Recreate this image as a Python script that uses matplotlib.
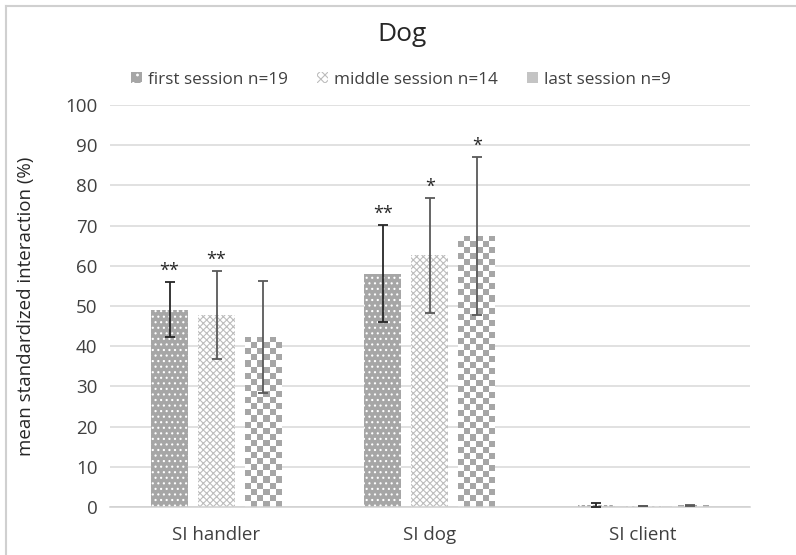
import numpy as np
import matplotlib
matplotlib.use("Agg")
from matplotlib import pyplot as plt
from matplotlib.patches import Patch
from matplotlib.lines import Line2D

plt.rcParams['font.family'] = ['Open Sans', 'DejaVu Sans']
plt.rcParams['hatch.linewidth'] = 0.8

categories = ['SI handler', 'SI dog', 'SI client']
series = ['first session n=19', 'middle session n=14', 'last session n=9']

first_mean = [49.1, 58.0, 0.6]
first_err = [6.8, 12.1, 0.5]
middle_mean = [47.7, 62.6, 0.2]
middle_err = [10.9, 14.3, 0.0]
last_mean = [42.3, 67.4, 0.4]
last_err = [13.9, 19.7, 0.1]

first_stars = ['**', '**', '']
middle_stars = ['**', '*', '']
last_stars = ['', '*', '']

GRAY = '#a6a6a6'

fig = plt.figure(figsize=(7.96, 5.55), dpi=100)
ax = fig.add_axes([0.138, 0.0865, 0.804, 0.7245])

x = np.arange(len(categories))
width = 0.173
step = 0.22

b1 = ax.bar(x - step, first_mean, width, color=GRAY, edgecolor='white',
            hatch='...', linewidth=0, zorder=2)
b2 = ax.bar(x, middle_mean, width, color='white', edgecolor='#bdbdbd',
            hatch='xxxxx', linewidth=0, zorder=2)
b3 = ax.bar(x + step, last_mean, width, color='white', linewidth=0, zorder=2)

ax.set_xlim(-0.5, 2.5)
ax.set_ylim(0, 100)

# checkerboard fill for the last session, clipped to each bar
fig.canvas.draw()
cell = 6.0
for rect in b3:
    x0, y0 = rect.get_x(), rect.get_y()
    w, h = rect.get_width(), rect.get_height()
    if h <= 0:
        continue
    p0 = ax.transData.transform((x0, y0))
    p1 = ax.transData.transform((x0 + w, y0 + h))
    ncol = max(1, int(round((p1[0] - p0[0]) / cell)))
    nrow = max(1, int(round((p1[1] - p0[1]) / cell)))
    board = (np.add.outer(np.arange(nrow), np.arange(ncol)) % 2).astype(float)
    im = ax.imshow(board, cmap=matplotlib.colors.ListedColormap(['white', GRAY]),
                   extent=(x0, x0 + w, y0, y0 + h), origin='lower',
                   interpolation='nearest', aspect='auto', zorder=2.5)
    im.set_clip_path(rect)

ax.set_aspect('auto')
ax.set_xlim(-0.5, 2.5)
ax.set_ylim(0, 100)

for offs, means, errs, col in [(-step, first_mean, first_err, '#262626'),
                               (0, middle_mean, middle_err, '#595959'),
                               (step, last_mean, last_err, '#595959')]:
    ax.errorbar(x + offs, means, yerr=errs, fmt='none', ecolor=col,
                elinewidth=1.3, capsize=3.5, capthick=1.3, zorder=3)

for offs, means, errs, stars in [(-step, first_mean, first_err, first_stars),
                                 (0, middle_mean, middle_err, middle_stars),
                                 (step, last_mean, last_err, last_stars)]:
    for xi, m, e, s in zip(x, means, errs, stars):
        if s:
            ax.annotate(s, (xi + offs, m + e), xytext=(0, 1.5),
                        textcoords='offset points', ha='center', va='bottom',
                        fontsize=13, color='#262626')

ax.set_yticks(np.arange(0, 101, 10))
ax.yaxis.grid(True, color='#d9d9d9', linewidth=1.1, zorder=0)
ax.set_axisbelow(True)
for side in ['left', 'right', 'top']:
    ax.spines[side].set_visible(False)
ax.spines['bottom'].set_color('#d0d0d0')
ax.spines['bottom'].set_linewidth(1.1)
ax.tick_params(length=0, labelsize=13.5, colors='#404040')
ax.tick_params(axis='x', pad=14)
ax.tick_params(axis='y', pad=9)
ax.set_xticks(x)
ax.set_xticklabels(categories)
ax.set_ylabel('mean standardized interaction (%)', fontsize=13.5,
              color='#262626', labelpad=22)

fig.text(0.505, 0.937, 'Dog', ha='center', va='center', fontsize=19,
         color='#262626')

handles = [Patch(facecolor=GRAY, edgecolor='white', hatch='..', linewidth=0),
           Patch(facecolor='white', edgecolor='#bdbdbd', hatch='xxxx', linewidth=0),
           Patch(facecolor='#c4c4c4', linewidth=0)]
fig.legend(handles, series, loc='center', bbox_to_anchor=(0.504, 0.856), ncol=3,
           frameon=False, fontsize=12.3, handlelength=0.6, handleheight=0.6,
           handletextpad=0.4, columnspacing=1.7, labelcolor='#404040')

# outer chart border (left and top)
fig.add_artist(Line2D([6 / 796, 6 / 796], [0, 1 - 6 / 555], transform=fig.transFigure,
                      color='#d0d0d0', linewidth=1.5))
fig.add_artist(Line2D([6 / 796, 1], [1 - 6 / 555, 1 - 6 / 555], transform=fig.transFigure,
                      color='#d0d0d0', linewidth=1.5))

fig.savefig('out.png', dpi=100)
